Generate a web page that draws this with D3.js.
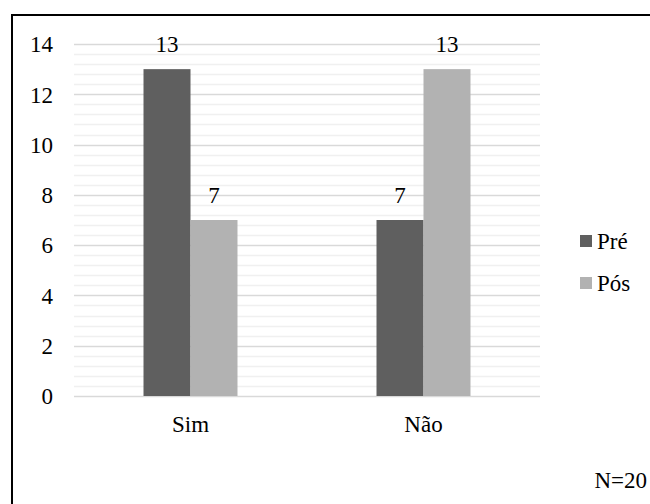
<!DOCTYPE html>
<html>
<head>
<meta charset="utf-8">
<script src="https://cdn.jsdelivr.net/npm/d3@7"></script>
</head>
<body style="margin:0">
<script>
const categories = ["Sim", "Não"];
const seriesNames = ["Pré", "Pós"];
const preValues = [13, 7];
const posValues = [7, 13];
const yTicks = [0, 2, 4, 6, 8, 10, 12, 14];
const note = "N=20";

const chartColors = { "Pré": "#5f5f5f", "Pós": "#b2b2b2" };
const serifStack = "Times New Roman";

const svg = d3.select("body").append("svg").attr("width", 650).attr("height", 504);

// outer border (extends beyond right/bottom of the picture)
svg.append("rect").attr("x", 12).attr("y", 15).attr("width", 800).attr("height", 800)
  .attr("fill", "none").attr("stroke", "#000").attr("stroke-width", 2);

const pLeft = 74, pRight = 540, pTop = 44, pBottom = 396;
const y = d3.scaleLinear().domain([0, 14]).range([pBottom, pTop]);
const x0 = d3.scaleBand().domain(categories).range([pLeft, pRight]).paddingInner(0.5966).paddingOuter(0.2983);
const x1 = d3.scaleBand().domain(seriesNames).range([0, x0.bandwidth()]);

// minor gridlines
const minor = d3.range(0, 14.0001, 0.4).filter(v => Math.abs(v / 2 - Math.round(v / 2)) > 1e-6);
svg.append("g").selectAll("line").data(minor).join("line")
  .attr("x1", pLeft).attr("x2", pRight)
  .attr("y1", d => Math.round(y(d)) + 0.5).attr("y2", d => Math.round(y(d)) + 0.5)
  .attr("stroke", "#f0f0f0").attr("stroke-width", 1.5);

// major gridlines
svg.append("g").selectAll("line").data(yTicks).join("line")
  .attr("x1", pLeft).attr("x2", pRight)
  .attr("y1", d => Math.round(y(d)) + 0.5).attr("y2", d => Math.round(y(d)) + 0.5)
  .attr("stroke", "#d9d9d9").attr("stroke-width", 1.5);

// y axis labels
const gy = svg.append("g").attr("transform", "translate(53,0)")
  .call(d3.axisLeft(y).tickValues(yTicks).tickSize(0).tickPadding(0).tickFormat(d3.format("d")));
gy.select(".domain").remove();
gy.selectAll("text").attr("dy", "0.34em");

// bars
const rows = categories.map((c, i) => ({ cat: c, vals: [
  { s: "Pré", v: preValues[i] }, { s: "Pós", v: posValues[i] } ] }));

const groups = svg.append("g").selectAll("g").data(rows).join("g")
  .attr("transform", d => `translate(${x0(d.cat)},0)`);

groups.selectAll("rect").data(d => d.vals).join("rect")
  .attr("x", d => x1(d.s)).attr("width", x1.bandwidth())
  .attr("y", d => y(d.v)).attr("height", d => y(0) - y(d.v))
  .attr("fill", d => chartColors[d.s]);

groups.selectAll("text.val").data(d => d.vals).join("text").attr("class", "val")
  .attr("x", d => x1(d.s) + x1.bandwidth() / 2).attr("y", d => y(d.v) - 17)
  .attr("text-anchor", "middle").text(d => d.v);

// x axis labels
const gx = svg.append("g").attr("transform", `translate(0,${pBottom})`)
  .call(d3.axisBottom(x0).tickSize(0).tickPadding(0));
gx.select(".domain").remove();
gx.selectAll("text").attr("dy", null).attr("y", 36);

// legend
const legend = svg.append("g").selectAll("g").data(seriesNames).join("g")
  .attr("transform", (d, i) => `translate(580,${235 + i * 42})`);
legend.append("rect").attr("width", 12).attr("height", 12).attr("fill", d => chartColors[d]);
legend.append("text").attr("x", 17).attr("y", 14).text(d => d);

// note
svg.append("text").attr("x", 647).attr("y", 488).attr("text-anchor", "end").text(note);

// typography for every text
svg.selectAll("g").attr("font-family", null).attr("font-size", null);
svg.selectAll("text")
  .style("font-family", serifStack)
  .style("font-size", "23px")
  .attr("fill", "#000");
</script>
</body>
</html>
